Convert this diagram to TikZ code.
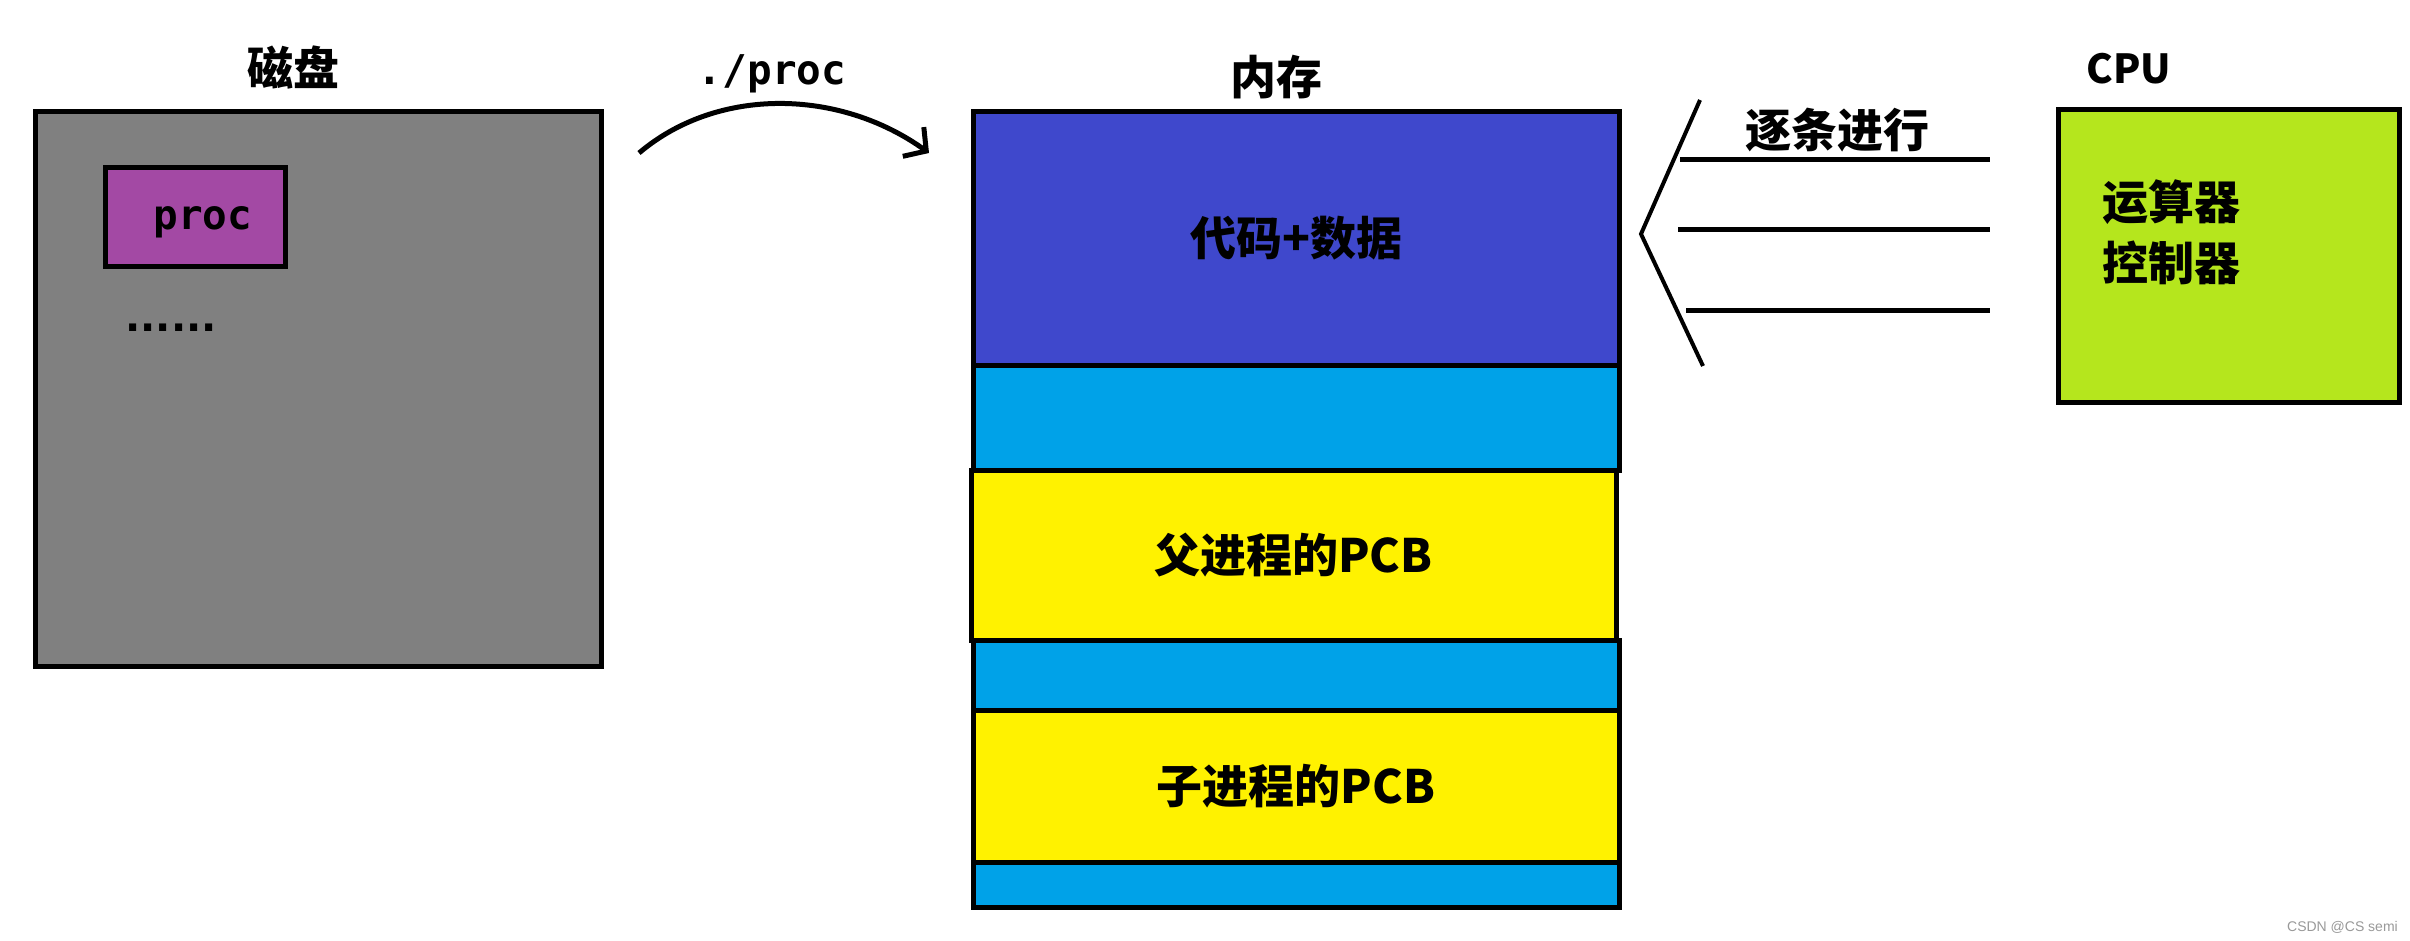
\documentclass[tikz,border=0pt]{standalone}
\usepackage{fontspec}
\newfontfamily\cjk{Noto Sans CJK SC}
\newfontfamily\monof{DejaVu Sans Mono}
\newfontfamily\dotsf{DejaVu Sans}
\newfontfamily\wmfont{Liberation Sans}
\usetikzlibrary{arrows.meta}
\definecolor{diskgray}{HTML}{808080}
\definecolor{procpurple}{HTML}{A349A4}
\definecolor{codeblue}{HTML}{3F48CC}
\definecolor{freeblue}{HTML}{00A2E8}
\definecolor{pcbyellow}{HTML}{FFF200}
\definecolor{cpulime}{HTML}{B5E61D}
\begin{document}
\begin{tikzpicture}[x=1pt,y=-1pt,
  box/.style={draw=black, line width=5pt, inner sep=0pt, outer sep=0pt, anchor=north west},
  lbl/.style={font=\cjk\bfseries\fontsize{46}{61}\selectfont, inner sep=0pt},
  monotext/.style={font=\monof\bfseries\fontsize{41}{45}\selectfont, inner sep=0pt},
  thick line/.style={line width=5pt},
]
\useasboundingbox[fill=white] (0,0) rectangle (2410,941);

% disk
\node[lbl] (disktitle) at (293,68) {磁盘};
\node[box, fill=diskgray, minimum width=566pt, minimum height=554pt] (disk) at (35,112) {};
\node[box, fill=procpurple, minimum width=180pt, minimum height=99pt] (procbox) at (105,168) {};
\node[monotext, anchor=base] (proctxt) at (203,230) {proc};
\node[font=\dotsf\bfseries\fontsize{40}{44}\selectfont, inner sep=0pt, anchor=base] (dots) at (171,331) {......};

% arrow
\node[monotext, anchor=base] (arrlbl) at (772,85) {./proc};
\coordinate (aS) at (639,153);
\coordinate (aE) at (929,153);
\draw[thick line, -{Straight Barb[length=16pt,width=36pt]}] (aS) .. controls (718,86) and (840,89) .. (aE);

% memory
\node[lbl] (memtitle) at (1276,77) {内存};
\node[box, fill=codeblue, minimum width=646pt, minimum height=253pt] (code) at (973,112) {};
\node[lbl] (codetxt) at (code.center) {代码+数据};
\node[box, fill=freeblue, minimum width=646pt, minimum height=105pt] (free1) at (973,365) {};
\node[box, fill=pcbyellow, minimum width=645pt, minimum height=170pt] (parent) at (971,470) {};
\node[lbl] (parenttxt) at (parent.center) {父进程的PCB};
\node[box, fill=freeblue, minimum width=646pt, minimum height=70pt] (free2) at (973,640) {};
\node[box, fill=pcbyellow, minimum width=646pt, minimum height=152pt] (child) at (973,710) {};
\node[lbl] (childtxt) at (child.center) {子进程的PCB};
\node[box, fill=freeblue, minimum width=646pt, minimum height=45pt] (free3) at (973,862) {};

% instruction stream
\coordinate (k1) at (1700,100);
\coordinate (k2) at (1641,234);
\coordinate (k3) at (1703,366);
\draw[line width=4pt] (k1) -- (k2) -- (k3);
\coordinate (l1a) at (1680,160); \coordinate (l1b) at (1990,160);
\coordinate (l2a) at (1678,230); \coordinate (l2b) at (1990,230);
\coordinate (l3a) at (1686,311); \coordinate (l3b) at (1990,311);
\draw[thick line] (l1a) -- (l1b);
\draw[thick line] (l2a) -- (l2b);
\draw[thick line] (l3a) -- (l3b);
\node[lbl] (steptxt) at (1837,130) {逐条进行};

% cpu
\node[lbl, font=\cjk\bfseries\fontsize{40}{44}\selectfont] (cputitle) at (2129,69) {CPU};
\node[box, fill=cpulime, minimum width=341pt, minimum height=292pt] (cpu) at (2058,110) {};
\node[lbl, align=left, anchor=west] (cputxt) at (2102,232) {运算器\\控制器};

% watermark
\node[font=\wmfont\fontsize{14}{16}\selectfont, text=gray!80, inner sep=0pt, anchor=east] (wm) at (2398,927) {CSDN @CS semi};
\end{tikzpicture}
\end{document}
